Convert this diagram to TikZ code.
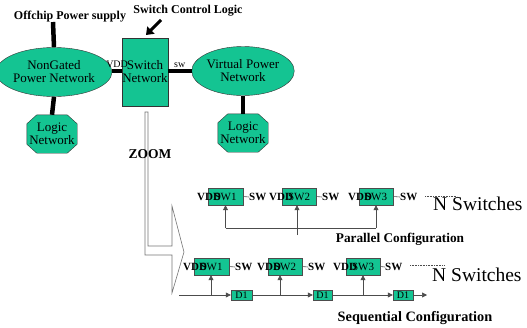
\documentclass[tikz,border=0pt]{standalone}
\usepackage{fontspec}
\setmainfont{Liberation Serif}
\usetikzlibrary{shapes.geometric,arrows.meta}
\definecolor{sea}{RGB}{20,196,146}
\newcommand\octagonat[1]{%
  \draw[draw=black!80,fill=sea]
    ([xshift=10pt]#1.north west) -- ([xshift=-10pt]#1.north east)
    -- ([yshift=-9pt]#1.north east) -- ([yshift=9pt]#1.south east)
    -- ([xshift=-10pt]#1.south east) -- ([xshift=10pt]#1.south west)
    -- ([yshift=9pt]#1.south west) -- ([yshift=-9pt]#1.north west) -- cycle;}
\begin{document}
\begin{tikzpicture}[x=1pt,y=-1pt,
  fnt/.style={font=\fontsize{#1}{#1}\selectfont},
  bfnt/.style={font=\bfseries\fontsize{#1}{#1}\selectfont},
  ell/.style={ellipse,draw=black!80,fill=sea,inner sep=0pt,align=center,fnt=13,minimum width=82pt,minimum height=49pt},
  octgeom/.style={rectangle,inner sep=0pt,minimum width=50pt,minimum height=38pt},
  octtext/.style={inner sep=0pt,align=center,fnt=13},
  bigbox/.style={draw=black!80,fill=sea,inner sep=0pt,align=center,fnt=13,minimum width=44pt,minimum height=68pt},
  thickline/.style={line width=4.5pt},
  swbox/.style={draw=black!70,fill=sea,minimum width=35pt,minimum height=17pt,inner sep=0pt,fnt=11},
  dbox/.style={draw=black!70,fill=sea,minimum width=21pt,minimum height=10pt,inner sep=0pt,fnt=10},
  lab/.style={anchor=west,inner sep=0pt,bfnt=11},
  thinline/.style={draw=black!70,line width=0.6pt},
  arr/.style={thinline,-{Triangle[length=5pt,width=5pt]}},
  zoomline/.style={draw=black!55,line width=0.6pt}
]
\useasboundingbox (0,0) rectangle (527,327);

% top part
\node[ell] (ng) at (54,72) {NonGated\\Power Network};
\node[bigbox] (sn) at (145,72) {Switch\\Network};
\node[ell] (vp) at (243,71) {Virtual Power\\Network};
\node[octgeom] (ln1) at (52,134) {};
\node[octgeom] (ln2) at (243,133) {};
\octagonat{ln1}
\octagonat{ln2}
\node[octtext] (ln1t) at (ln1) {Logic\\Network};
\node[octtext] (ln2t) at (ln2) {Logic\\Network};

\node[bfnt=12,inner sep=0pt] (off) at (70,17) {Offchip Power supply};
\coordinate (os) at (53,22);
\draw[thickline] (os) -- (ng.north);
\draw[thickline] (ng.south) -- (ln1.north);
\draw[thickline] (vp.south) -- (ln2.north);
\coordinate (hl) at (0,71);
\draw[thickline] (ng.east |- hl) -- node[above=1pt,fnt=10,inner sep=0pt] {VDD} (sn.west |- hl);
\draw[thickline] (sn.east |- hl) -- node[above=1pt,fnt=10,inner sep=0pt] {sw} (vp.west |- hl);

\node[bfnt=12,inner sep=0pt] (scl) at (188,11) {Switch Control Logic};
\coordinate (ca) at (161,20);
\coordinate (cb) at (146,35);
\draw[line width=3pt,-{Triangle[length=7pt,width=10pt]}] (ca) -- (cb);

% zoom arrow
\draw[zoomline] (145,112) -- (148,112) -- (148,246) -- (172,246) -- (172,206) -- (184,252) -- (172,293) -- (172,255) -- (145,255) -- cycle;
\node[bfnt=13.5,inner sep=0pt] (zoom) at (150,154) {ZOOM};

% parallel configuration
\node[swbox] (p1) at (225.5,196.5) {SW1};
\node[swbox,minimum width=34pt] (p2) at (299,196.5) {SW2};
\node[swbox,minimum width=34pt] (p3) at (376,196.5) {SW3};
\node[lab] (pv1) at (197,197) {VDD};
\node[lab] (pv2) at (269,197) {VDD};
\node[lab] (pv3) at (348,197) {VDD};
\node[lab] (ps1) at (249,197) {SW};
\node[lab] (ps2) at (322,197) {SW};
\node[lab] (ps3) at (400,197) {SW};
\draw[thinline] (p1.east) -- (ps1.west);
\draw[thinline] (p2.east) -- (ps2.west);
\draw[thinline] (p3.east) -- (ps3.west);
\coordinate (pd1) at (425,196);
\coordinate (pd2) at (457,196);
\draw[thinline,densely dotted] (pd1) -- (pd2);
\node[anchor=west,fnt=19.5,inner sep=0pt] (pn) at (433,204) {N Switches};
\coordinate (pbus) at (0,228);
\coordinate (pl) at (p1.south |- pbus);
\coordinate (pr) at (p3.south |- pbus);
\draw[thinline] (pl) -- (pr);
\draw[arr] (pl) -- (p1.south);
\draw[arr] (pr) -- (p3.south);
\coordinate (pm) at (297,235);
\draw[arr] (pm) -- (pm |- p2.south);
\node[bfnt=13.3,inner sep=0pt] (pc) at (400,239) {Parallel Configuration};

% sequential configuration
\node[swbox] (s1) at (211.5,266.5) {SW1};
\node[swbox,minimum width=34pt] (s2) at (285,266.5) {SW2};
\node[swbox,minimum width=34pt] (s3) at (363,266.5) {SW3};
\node[lab] (sv1) at (183,267) {VDD};
\node[lab] (sv2) at (257,267) {VDD};
\node[lab] (sv3) at (333,267) {VDD};
\node[lab] (ss1) at (235,267) {SW};
\node[lab] (ss2) at (308,267) {SW};
\node[lab] (ss3) at (385,267) {SW};
\draw[thinline] (s1.east) -- (ss1.west);
\draw[thinline] (s2.east) -- (ss2.west);
\draw[thinline] (s3.east) -- (ss3.west);
\coordinate (sd1) at (410,265);
\coordinate (sd2) at (445,265);
\draw[thinline,densely dotted] (sd1) -- (sd2);
\node[anchor=west,fnt=19.5,inner sep=0pt] (sn2) at (432,275) {N Switches};

\coordinate (s0) at (179,295);
\node[dbox] (d1) at (241.5,295) {D1};
\node[dbox,minimum width=19pt] (d2) at (322.5,295) {D1};
\node[dbox,minimum width=20pt] (d3) at (403,295) {D1};
\coordinate (send) at (427,295);
\draw[arr] (s0) -- (d1.west);
\draw[arr] (d1.east) -- (d2.west);
\draw[arr] (d2.east) -- (d3.west);
\draw[arr] (d3.east) -- (send);
\coordinate (b1) at (211,295);
\coordinate (b2) at (280,295);
\coordinate (b3) at (363,295);
\draw[arr] (b1) -- (b1 |- s1.south);
\draw[arr] (b2) -- (b2 |- s2.south);
\draw[arr] (b3) -- (b3 |- s3.south);
\node[bfnt=14.3,inner sep=0pt] (sc) at (415,318) {Sequential Configuration};
\end{tikzpicture}
\end{document}
